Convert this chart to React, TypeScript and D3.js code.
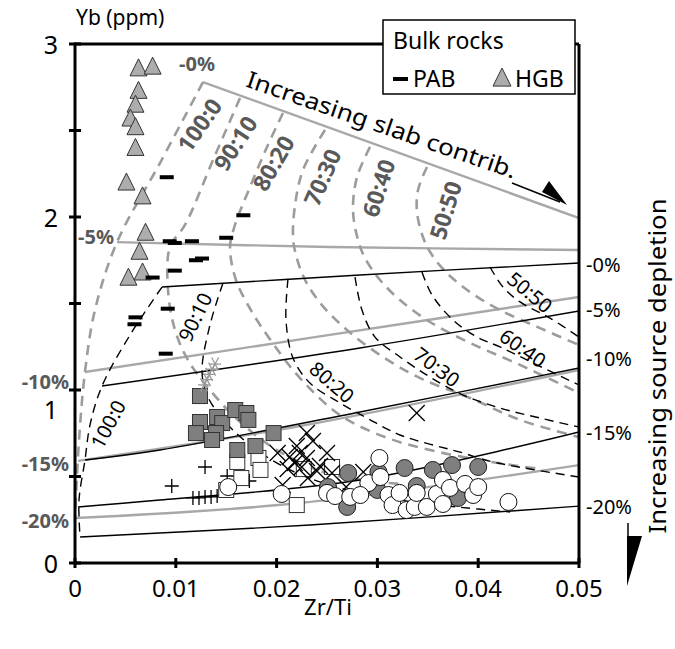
import * as d3 from "d3";

type Pt = [number, number];

// axes
const xTicks = [0, 0.01, 0.02, 0.03, 0.04, 0.05];
const xTickLabels = ["0", "0.01", "0.02", "0.03", "0.04", "0.05"];
const yTicks = [0, 1, 2, 3];
const yTickMarks = [0, 0.5, 1, 1.5, 2, 2.5, 3];

// grey model: solid = source depletion (0,5,10,15,20 %), dashed = mixing ratio
const greyDepletion: Pt[][] = [
  [[0.0127, 2.78], [0.05, 1.994]],
  [[0.00417, 1.855], [0.0253, 1.827], [0.05, 1.809]],
  [[0.00099, 1.104], [0.02331, 1.301], [0.05, 1.538]],
  [[0.0003, 0.59], [0.02232, 0.792], [0.05, 1.116]],
  [[0, 0.26], [0.02232, 0.347], [0.05, 0.566]],
];
const greyMix: Pt[][] = [
  [[0.0127, 2.78], [0.00843, 2.312], [0.00417, 1.855], [0.00198, 1.462], [0.00099, 1.104], [0.0004, 0.711], [0, 0.26]],
  [[0.01637, 2.688], [0.01369, 2.329], [0.01091, 1.954], [0.00942, 1.827], [0.00923, 1.578], [0.00992, 1.347], [0.01121, 1.173], [0.01339, 1.0], [0.01637, 0.815], [0.02034, 0.642], [0.0253, 0.514], [0.03224, 0.457]],
  [[0.02063, 2.601], [0.01905, 2.405], [0.01736, 2.173], [0.01587, 1.954], [0.01538, 1.827], [0.01597, 1.636], [0.01756, 1.451], [0.01954, 1.277], [0.02232, 1.069], [0.02629, 0.855], [0.03075, 0.728], [0.03522, 0.653], [0.04018, 0.595], [0.04613, 0.543]],
  [[0.0248, 2.503], [0.02262, 2.272], [0.02183, 2.069], [0.02163, 1.884], [0.02192, 1.78], [0.02282, 1.636], [0.0245, 1.491], [0.02698, 1.347], [0.03026, 1.202], [0.03423, 1.069], [0.03919, 0.954], [0.04415, 0.827], [0.05, 0.728]],
  [[0.02927, 2.405], [0.02798, 2.231], [0.02758, 2.04], [0.02808, 1.867], [0.02877, 1.763], [0.03026, 1.636], [0.03224, 1.52], [0.03522, 1.393], [0.03919, 1.272], [0.04415, 1.145], [0.05, 0.983]],
  [[0.03492, 2.289], [0.03403, 2.156], [0.03393, 2.029], [0.03452, 1.884], [0.03542, 1.78], [0.0369, 1.676], [0.03919, 1.566], [0.04216, 1.462], [0.04613, 1.358], [0.05, 1.26]],
];
const greyMixLabels = ["100:0", "90:10", "80:20", "70:30", "60:40", "50:50"];
const greyMixLabelAt: Pt[] = [[0.0123, 2.532], [0.01587, 2.428], [0.01964, 2.312], [0.0245, 2.231], [0.03006, 2.168], [0.03671, 2.04]];
const greyMixLabelRot = [-55, -57, -60, -66, -72, -73];

// black model
const blackDepletion: Pt[][] = [
  [[0.00863, 1.595], [0.02827, 1.665], [0.05, 1.734]],
  [[0.00268, 1.023], [0.02827, 1.243], [0.05, 1.457]],
  [[0.00099, 0.595], [0.00843, 0.653], [0.02827, 0.873], [0.05, 1.127]],
  [[0.0003, 0.324], [0.00843, 0.364], [0.02827, 0.48], [0.05, 0.757]],
  [[0.0005, 0.15], [0.02331, 0.22], [0.05, 0.329]],
];
const blackMix: Pt[][] = [
  [[0.00863, 1.595], [0.00546, 1.318], [0.00268, 1.023], [0.00149, 0.798], [0.00099, 0.595], [0.0004, 0.364], [0.0005, 0.15]],
  [[0.01468, 1.618], [0.01339, 1.376], [0.0126, 1.11], [0.0131, 0.971], [0.01458, 0.838], [0.01736, 0.682], [0.02133, 0.538], [0.02629, 0.434], [0.03224, 0.364], [0.0379, 0.324], [0.04315, 0.295]],
  [[0.02113, 1.642], [0.02093, 1.405], [0.02163, 1.185], [0.02331, 1.04], [0.02629, 0.925], [0.02897, 0.838], [0.03224, 0.74], [0.03849, 0.636], [0.04147, 0.584], [0.05, 0.497]],
  [[0.02778, 1.653], [0.02847, 1.462], [0.02976, 1.306], [0.03224, 1.191], [0.03522, 1.075], [0.03849, 0.971], [0.04216, 0.896], [0.04613, 0.838], [0.05, 0.786]],
  [[0.03442, 1.682], [0.03542, 1.549], [0.0375, 1.405], [0.03988, 1.306], [0.04216, 1.249], [0.04544, 1.156], [0.05, 1.029]],
  [[0.04117, 1.711], [0.04246, 1.595], [0.04415, 1.509], [0.04712, 1.416], [0.05, 1.306]],
];
const blackMixLabels = ["100:0", "90:10", "80:20", "70:30", "60:40", "50:50"];
const blackMixLabelAt: Pt[] = [[0.00327, 0.803], [0.0119, 1.422], [0.0255, 1.046], [0.03591, 1.133], [0.04444, 1.243], [0.04514, 1.566]];
const blackMixLabelRot = [-62, -64, 41, 37, 35, 40];

// depletion labels
const greyPctLabels = ["-0%", "-5%", "-10%", "-15%", "-20%"];
const blackPctLabels = ["-0%", "-5%", "-10%", "-15%", "-20%"];

// samples
const hgb: Pt[] = [[0.0063, 2.86], [0.0077, 2.87], [0.0063, 2.73], [0.006, 2.65], [0.0055, 2.57], [0.006, 2.52], [0.006, 2.4], [0.0051, 2.2], [0.0067, 2.12], [0.007, 1.91], [0.0064, 1.8], [0.0067, 1.68], [0.0053, 1.65]];
const pab: Pt[] = [[0.0091, 2.23], [0.0167, 2.01], [0.015, 1.88], [0.0094, 1.86], [0.0116, 1.86], [0.0099, 1.85], [0.012, 1.75], [0.0126, 1.76], [0.0099, 1.69], [0.0077, 1.65], [0.0092, 1.47], [0.006, 1.42], [0.0059, 1.38], [0.009, 1.21]];
const greyStars: Pt[] = [[0.0139, 1.15], [0.0136, 1.12], [0.0133, 1.09], [0.0131, 1.06], [0.0128, 1.03]];
const darkSquares: Pt[] = [[0.0124, 0.965], [0.0124, 0.815], [0.012, 0.751], [0.0141, 0.844], [0.0146, 0.809], [0.0159, 0.884], [0.017, 0.867], [0.0172, 0.827], [0.014, 0.751], [0.0136, 0.711], [0.0161, 0.653], [0.0179, 0.676], [0.0197, 0.751]];
const openSquares: Pt[] = [[0.0161, 0.584], [0.0182, 0.607], [0.0184, 0.538], [0.0165, 0.491], [0.015, 0.422], [0.022, 0.335], [0.0227, 0.543], [0.0255, 0.555]];
const pluses: Pt[] = [[0.0129, 0.555], [0.0096, 0.445], [0.0151, 0.503], [0.0173, 0.474], [0.0117, 0.376], [0.0123, 0.376], [0.0129, 0.382], [0.0135, 0.382], [0.0141, 0.387]];
const crosses: Pt[] = [[0.023, 0.751], [0.0236, 0.705], [0.022, 0.676], [0.0201, 0.636], [0.0213, 0.613], [0.0223, 0.636], [0.023, 0.607], [0.0218, 0.578], [0.0211, 0.543], [0.0225, 0.555], [0.024, 0.532], [0.025, 0.636], [0.0243, 0.561], [0.0206, 0.451], [0.0231, 0.491], [0.0255, 0.52], [0.0339, 0.867], [0.0286, 0.526], [0.0269, 0.439]];
const greyCircles: Pt[] = [[0.0271, 0.52], [0.0301, 0.526], [0.0327, 0.549], [0.0355, 0.538], [0.0374, 0.566], [0.04, 0.555], [0.027, 0.324], [0.03, 0.422], [0.0339, 0.445], [0.038, 0.376], [0.0251, 0.439]];
const whiteCircles: Pt[] = [[0.0152, 0.439], [0.0205, 0.399], [0.025, 0.405], [0.0258, 0.387], [0.0273, 0.382], [0.0302, 0.607], [0.0291, 0.462], [0.0283, 0.393], [0.0311, 0.393], [0.0315, 0.335], [0.0329, 0.306], [0.0337, 0.324], [0.0322, 0.405], [0.0339, 0.405], [0.0303, 0.497], [0.0349, 0.324], [0.0359, 0.399], [0.0365, 0.341], [0.0365, 0.48], [0.0372, 0.434], [0.0387, 0.457], [0.0395, 0.393], [0.04, 0.439], [0.043, 0.353]];

const FONT = "'Noto Sans', 'DejaVu Sans', sans-serif";
const GREY_LINE = "#a8a8a8";
const GREY_TEXT = "#595959";

export default function App() {
  const W = 675;
  const H = 649;
  const x = d3.scaleLinear().domain([0, 0.05]).range([75, 579]);
  const y = d3.scaleLinear().domain([0, 3]).range([563, 44]);
  const curve = d3
    .line<Pt>()
    .x((d) => x(d[0]))
    .y((d) => y(d[1]))
    .curve(d3.curveCatmullRom.alpha(0.5));

  const tri = (cx: number, cy: number, s: number) =>
    `M${cx},${cy - s * 0.55}L${cx + s / 2},${cy + s * 0.45}L${cx - s / 2},${cy + s * 0.45}Z`;

  // grey depletion labels sit at the left ends of the grey lines
  const greyLeftPos = [
    { x: 197, y: 63, anchor: "middle" },
    { x: 96, y: 236, anchor: "middle" },
    { x: 69, y: 381, anchor: "end" },
    { x: 69, y: 463, anchor: "end" },
    { x: 69, y: 520, anchor: "end" },
  ];
  const blackRightY = [264, 309, 358, 432, 506];
  // the "1" label is nudged down below "-10%"
  const yLabelY = (t: number) => (t === 1 ? 409 : y(t));

  return (
    <svg
      width={W}
      height={H}
      style={{ position: "absolute", left: 0, top: 0, background: "#fff" }}
      fontFamily={FONT}
    >
      <defs>
        <clipPath id="plotArea">
          <rect x={75} y={44} width={504} height={519} />
        </clipPath>
      </defs>

      <g clipPath="url(#plotArea)" fill="none">
        {greyDepletion.map((d, i) => (
          <path key={"gd" + i} d={curve(d) || ""} stroke={GREY_LINE} strokeWidth={2.4} />
        ))}
        {greyMix.map((d, i) => (
          <path key={"gm" + i} d={curve(d) || ""} stroke="#9c9c9c" strokeWidth={2.6} strokeDasharray="10 7" />
        ))}
        {blackDepletion.map((d, i) => (
          <path key={"bd" + i} d={curve(d) || ""} stroke="#000" strokeWidth={1.4} />
        ))}
        {blackMix.map((d, i) => (
          <path key={"bm" + i} d={curve(d) || ""} stroke="#000" strokeWidth={1.4} strokeDasharray="9 6" />
        ))}
      </g>

      {/* mixing labels */}
      {greyMixLabels.map((t, i) => (
        <text
          key={"gl" + i}
          transform={`translate(${x(greyMixLabelAt[i][0])},${y(greyMixLabelAt[i][1])}) rotate(${greyMixLabelRot[i]})`}
          textAnchor="middle"
          dominantBaseline="central"
          fontSize={23}
          fontWeight="bold"
          fill={GREY_TEXT}
        >
          {t}
        </text>
      ))}
      {blackMixLabels.map((t, i) => (
        <text
          key={"bl" + i}
          transform={`translate(${x(blackMixLabelAt[i][0])},${y(blackMixLabelAt[i][1])}) rotate(${blackMixLabelRot[i]})`}
          textAnchor="middle"
          dominantBaseline="central"
          fontSize={20}
          fill="#000"
        >
          {t}
        </text>
      ))}

      {/* depletion labels */}
      {greyPctLabels.map((t, i) => (
        <text
          key={"gp" + i}
          x={greyLeftPos[i].x}
          y={greyLeftPos[i].y}
          textAnchor={greyLeftPos[i].anchor as any}
          dominantBaseline="central"
          fontSize={20}
          fontWeight="bold"
          fill={GREY_TEXT}
        >
          {t}
        </text>
      ))}
      {blackPctLabels.map((t, i) => (
        <text key={"bp" + i} x={586} y={blackRightY[i]} dominantBaseline="central" fontSize={20} fill="#000">
          {t}
        </text>
      ))}

      {/* slab contribution annotation */}
      <text
        transform={`translate(382,124) rotate(19)`}
        textAnchor="middle"
        dominantBaseline="central"
        fontSize={23}
        textLength={284}
        lengthAdjust="spacingAndGlyphs"
      >
        Increasing slab contrib.
      </text>
      <line x1={512} y1={183} x2={560} y2={202} stroke="#000" strokeWidth={1.5} />
      <path d="M542,192L549,181L567,205Z" fill="#000" />

      {/* source depletion annotation */}
      <text
        transform={`translate(656,366) rotate(-90)`}
        textAnchor="middle"
        dominantBaseline="central"
        fontSize={24}
        textLength={335}
        lengthAdjust="spacingAndGlyphs"
      >
        Increasing source depletion
      </text>
      <line x1={628} y1={523} x2={628} y2={575} stroke="#000" strokeWidth={1.5} />
      <path d="M627,536L642,536L627,586Z" fill="#000" />

      {/* samples */}
      {pluses.map((d, i) => (
        <path
          key={"pl" + i}
          d={`M${x(d[0]) - 7},${y(d[1])}h14M${x(d[0])},${y(d[1]) - 7}v14`}
          stroke="#000"
          strokeWidth={1.3}
        />
      ))}
      {openSquares.map((d, i) => (
        <rect key={"os" + i} x={x(d[0]) - 7.5} y={y(d[1]) - 7.5} width={15} height={15} fill="#fff" stroke="#333" strokeWidth={1} />
      ))}
      {crosses.map((d, i) => (
        <path
          key={"cr" + i}
          d={`M${x(d[0]) - 8},${y(d[1]) - 8}l16,16M${x(d[0]) - 8},${y(d[1]) + 8}l16,-16`}
          stroke="#000"
          strokeWidth={1.3}
        />
      ))}
      {darkSquares.map((d, i) => (
        <rect key={"ds" + i} x={x(d[0]) - 7.5} y={y(d[1]) - 7.5} width={15} height={15} fill="#7f7f7f" stroke="#333" strokeWidth={1} />
      ))}
      {greyCircles.map((d, i) => (
        <circle key={"gc" + i} cx={x(d[0])} cy={y(d[1])} r={8.5} fill="#7f7f7f" stroke="#222" strokeWidth={1} />
      ))}
      {whiteCircles.map((d, i) => (
        <circle key={"wc" + i} cx={x(d[0])} cy={y(d[1])} r={8.5} fill="#fff" stroke="#111" strokeWidth={1} />
      ))}
      {greyStars.map((d, i) => {
        const cx = x(d[0]);
        const cy = y(d[1]);
        return (
          <path
            key={"st" + i}
            d={`M${cx - 6},${cy}h12M${cx - 3.5},${cy - 6.5}l7,13M${cx + 3.5},${cy - 6.5}l-7,13`}
            stroke="#9a9a9a"
            strokeWidth={1.3}
          />
        );
      })}
      {hgb.map((d, i) => (
        <path key={"hg" + i} d={tri(x(d[0]), y(d[1]), 17)} fill="#adadad" stroke="#333" strokeWidth={1} />
      ))}
      {pab.map((d, i) => (
        <rect key={"pb" + i} x={x(d[0]) - 7} y={y(d[1]) - 2} width={14} height={4} fill="#000" />
      ))}

      {/* frame and axes */}
      <g stroke="#000" strokeWidth={3} fill="none">
        <line x1={x(0)} y1={y(3)} x2={x(0.05)} y2={y(3)} />
        <line x1={x(0.05)} y1={y(3)} x2={x(0.05)} y2={y(0)} />
        <line x1={x(0)} y1={y(3) - 1.5} x2={x(0)} y2={y(0) + 1.5} />
        <line x1={x(0)} y1={y(0)} x2={x(0.05)} y2={y(0)} />
        {xTicks.map((t) => (
          <line key={"xt" + t} x1={x(t)} x2={x(t)} y1={y(0) - 5} y2={y(0) + 5} />
        ))}
        {yTickMarks.map((t) => (
          <line key={"yt" + t} x1={x(0) - 6} x2={x(0) + 6} y1={y(t)} y2={y(t)} />
        ))}
      </g>
      {xTicks.map((t, i) => (
        <text key={"xl" + t} x={x(t)} y={597} textAnchor="middle" fontSize={24}>
          {xTickLabels[i]}
        </text>
      ))}
      {yTicks.map((t) => (
        <text key={"yl" + t} x={58} y={yLabelY(t)} textAnchor="end" dominantBaseline="central" fontSize={25}>
          {t}
        </text>
      ))}
      <text x={76} y={25} fontSize={21}>
        Yb (ppm)
      </text>
      <text x={328} y={615} textAnchor="middle" fontSize={22}>
        Zr/Ti
      </text>

      {/* legend */}
      <rect x={383} y={20} width={192} height={74} fill="#fff" stroke="#000" strokeWidth={1.5} />
      <text x={393} y={49} fontSize={23}>
        Bulk rocks
      </text>
      <rect x={393} y={77} width={15} height={4} fill="#000" />
      <text x={413} y={87} fontSize={23}>
        PAB
      </text>
      <path d={tri(502, 78, 18)} fill="#adadad" stroke="#333" strokeWidth={1} />
      <text x={515} y={87} fontSize={23}>
        HGB
      </text>
    </svg>
  );
}
